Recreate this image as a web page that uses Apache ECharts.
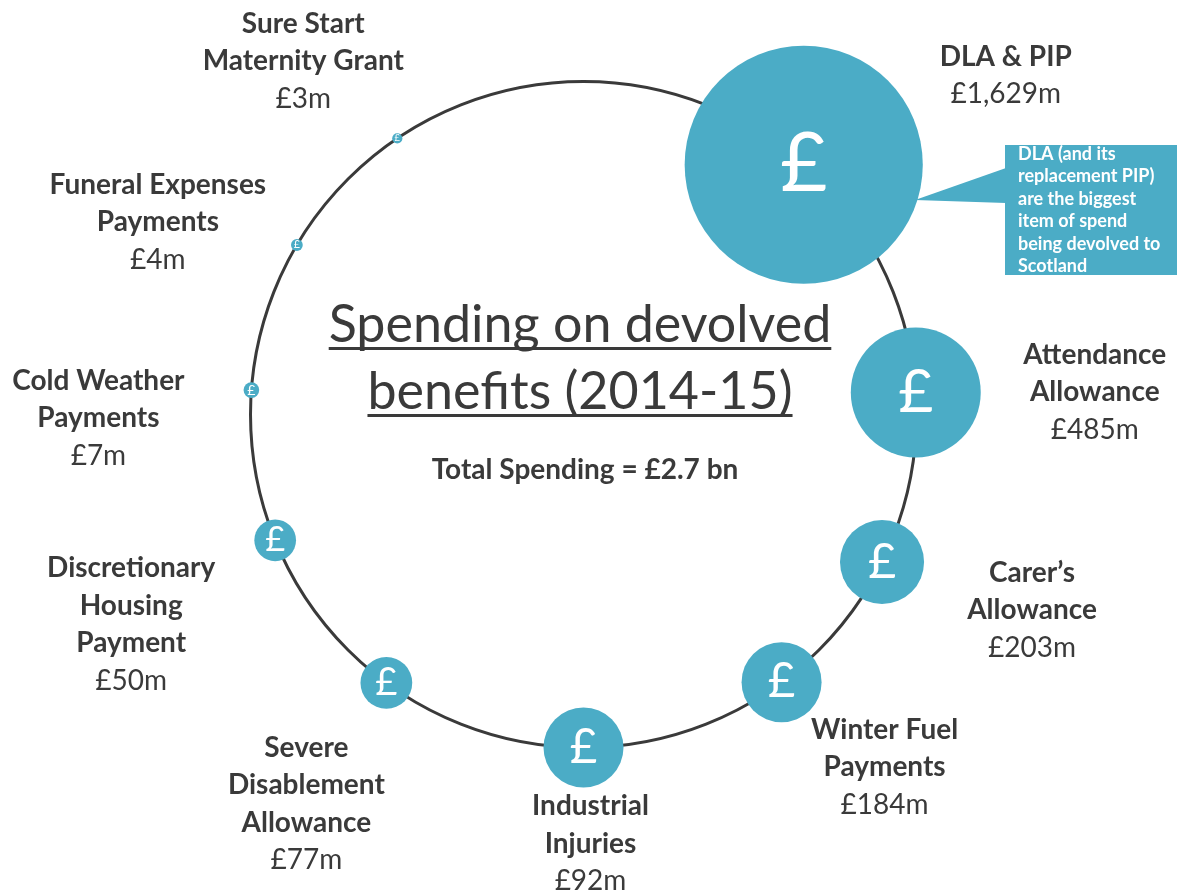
<!DOCTYPE html>
<html><head><meta charset="utf-8">
<script src="https://cdn.jsdelivr.net/npm/echarts@6/dist/echarts.min.js"></script>
<style>html,body{margin:0;padding:0;background:#fff}#chart{width:1177px;height:893px}</style>
</head><body><div id="chart"></div>
<script>
// ---------- DATA ----------
const categories = [
  'DLA & PIP',
  'Attendance\nAllowance',
  'Carer\u2019s\nAllowance',
  'Winter Fuel\nPayments',
  'Industrial\nInjuries',
  'Severe\nDisablement\nAllowance',
  'Discretionary\nHousing\nPayment',
  'Cold Weather\nPayments',
  'Funeral Expenses\nPayments',
  'Sure Start\nMaternity Grant'
];
const spendMillions = [1629, 485, 203, 184, 92, 77, 50, 7, 4, 3];
const totalSpendingText = 'Total Spending = \u00a32.7 bn';
const titleLines = ['Spending on devolved', 'benefits (2014-15)'];
const calloutLines = ['DLA (and its', 'replacement PIP)', 'are the biggest', 'item of spend', 'being devolved to', 'Scotland'];

// ---------- LAYOUT / STYLE (not data) ----------
const ringAngles = [41.4, 86.2, 116.3, 143.5, 180, 216.3, 247.8, 274.2, 300.6, 326];
const labelOffsets = [[202, -89], [179, 0], [150, 48], [103, 85], [7, 96], [-80, 121], [-144, 84], [-153, 28], [-139, -23], [-94, -77]];
const sizeOverride = { 4: 80 }; // Industrial Injuries bubble is drawn larger in the original
const TEAL = '#4BACC6';
const INK = '#3a3a3a';
const FONT = 'Lato';
const ring = { cx: 583.5, cy: 414.5, r: 333 };

function diameter(i) {
  if (sizeOverride[i] != null) return sizeOverride[i];
  return 5.9 * Math.sqrt(spendMillions[i]);
}
function glyphSize(d) { return Math.min(5.3 * Math.sqrt(d), 0.9 * d); }
function money(v) { return '\u00a3' + v.toLocaleString('en-GB') + 'm'; }

const bubbleData = spendMillions.map((v, i) => {
  const d = diameter(i);
  return {
    name: categories[i],
    value: [1, ringAngles[i], v],
    symbolSize: d,
    label: { fontSize: glyphSize(d) }
  };
});
const labelData = spendMillions.map((v, i) => ({
  name: categories[i],
  value: [1, ringAngles[i], v],
  label: { offset: labelOffsets[i] }
}));

// measure title text for underline
const mctx = document.createElement('canvas').getContext('2d');
const TITLE_FS = 52;
mctx.font = 'normal ' + TITLE_FS + 'px ' + FONT;
const titleCenters = [325, 392];
const titleX = 580;
const graphics = [];
titleLines.forEach((t, k) => {
  const w = mctx.measureText(t).width;
  graphics.push({
    type: 'text', x: titleX, y: titleCenters[k],
    style: { text: t, fontFamily: FONT, fontSize: TITLE_FS, fill: INK, align: 'center', verticalAlign: 'middle' }
  });
  graphics.push({
    type: 'rect', shape: { x: titleX - w / 2, y: titleCenters[k] + 22, width: w, height: 3 },
    style: { fill: INK }
  });
});
graphics.push({
  type: 'text', x: 585, y: 470,
  style: { text: totalSpendingText, fontFamily: FONT, fontWeight: 'bold', fontSize: 28, fill: INK, align: 'center', verticalAlign: 'middle' }
});
// callout
graphics.push({ type: 'polygon', shape: { points: [[915, 200], [1006, 168], [1006, 203]] }, style: { fill: TEAL } });
graphics.push({ type: 'rect', shape: { x: 1005, y: 145, width: 180, height: 130 }, style: { fill: TEAL } });
graphics.push({
  type: 'text', x: 1018, y: 143,
  style: { text: calloutLines.join('\n'), fontFamily: FONT, fontWeight: 'bold', fontSize: 18, lineHeight: 22.4, fill: '#fff', align: 'left', verticalAlign: 'top' }
});

const chart = echarts.init(document.getElementById('chart'), null, { renderer: 'canvas' });
chart.setOption({
  animation: false,
  backgroundColor: '#fff',
  polar: { center: [ring.cx, ring.cy], radius: ring.r },
  angleAxis: {
    type: 'value', min: 0, max: 360, startAngle: 90, clockwise: true,
    axisLine: { show: true, lineStyle: { color: '#3a3a3a', width: 3 } },
    axisTick: { show: false }, axisLabel: { show: false }, splitLine: { show: false }
  },
  radiusAxis: { type: 'value', min: 0, max: 1, show: false, axisLine: { show: false }, splitLine: { show: false }, axisLabel: { show: false }, axisTick: { show: false } },
  series: [
    {
      type: 'scatter', coordinateSystem: 'polar', z: 3, silent: true,
      symbol: 'circle',
      itemStyle: { color: TEAL, opacity: 1 },
      label: { show: true, position: 'inside', formatter: '\u00a3', color: '#fff', fontFamily: FONT, fontWeight: 'normal', textBorderWidth: 0 },
      emphasis: { disabled: true },
      data: bubbleData
    },
    {
      type: 'scatter', coordinateSystem: 'polar', z: 4, silent: true,
      symbol: 'circle', symbolSize: 0,
      itemStyle: { color: INK, opacity: 1 },
      emphasis: { disabled: true },
      label: {
        show: true, position: 'inside', align: 'center', verticalAlign: 'middle',
        color: INK, textBorderWidth: 0,
        formatter: p => p.name.split('\n').map(l => '{n|' + l + '}').join('\n') + '\n{v|' + money(p.value[2]) + '}',
        rich: {
          n: { fontFamily: FONT, fontWeight: 'bold', fontSize: 28, lineHeight: 37.5, color: INK, align: 'center', textBorderWidth: 0 },
          v: { fontFamily: FONT, fontWeight: 'normal', fontSize: 28, lineHeight: 37.5, color: INK, align: 'center', textBorderWidth: 0 }
        }
      },
      data: labelData
    }
  ],
  graphic: graphics
});
</script>
</body></html>
